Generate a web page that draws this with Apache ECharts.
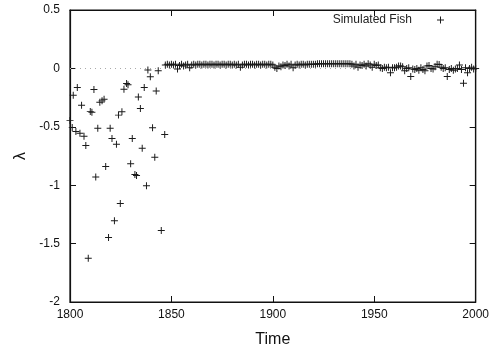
<!DOCTYPE html>
<html>
<head>
<meta charset="utf-8">
<script src="https://cdn.jsdelivr.net/npm/echarts@6/dist/echarts.min.js"></script>
<style>
html,body{margin:0;padding:0;background:#fff;}
#chart{width:492px;height:353px;}
</style>
</head>
<body>
<div id="chart"></div>
<script>
// Early, scattered estimates (1800-1846)
var earlyYears = [1800.0,1801.1,1801.6,1802.9,1803.6,1804.9,1805.7,1806.9,1807.8,1809.0,
  1810.0,1810.8,1811.8,1812.7,1813.7,1814.7,1815.8,1816.8,1817.6,1819.0,
  1819.8,1820.7,1821.9,1822.9,1823.9,1824.8,1825.6,1826.6,1827.9,1828.6,
  1829.9,1830.7,1832.0,1832.8,1833.7,1834.7,1835.6,1836.6,1837.7,1838.4,
  1839.6,1840.7,1841.8,1842.5,1843.5,1845.0,1846.7];
var earlyLambda = [-0.445,-0.505,-0.23,-0.54,-0.164,-0.556,-0.315,-0.58,-0.66,-1.626,
  -0.37,-0.375,-0.18,-0.93,-0.513,-0.29,-0.278,-0.264,-0.84,-1.447,
  -0.513,-0.6,-1.305,-0.65,-0.40,-1.157,-0.372,-0.179,-0.13,-0.139,
  -0.817,-0.6,-0.908,-0.916,-0.244,-0.343,-0.683,-0.164,-1.004,-0.014,
  -0.071,-0.508,-0.76,-0.193,-0.02,-1.387,-0.565];
// Later estimates (1847-2000), close to zero
var lateYears = [1847,1848,1849,
  1850,1851,1852,1853,1854,1855,1856,1857,1858,1859,
  1860,1861,1862,1863,1864,1865,1866,1867,1868,1869,
  1870,1871,1872,1873,1874,1875,1876,1877,1878,1879,
  1880,1881,1882,1883,1884,1885,1886,1887,1888,1889,
  1890,1891,1892,1893,1894,1895,1896,1897,1898,1899,
  1900,1901,1902,1903,1904,1905,1906,1907,1908,1909,
  1910,1911,1912,1913,1914,1915,1916,1917,1918,1919,
  1920,1921,1922,1923,1924,1925,1926,1927,1928,1929,
  1930,1931,1932,1933,1934,1935,1936,1937,1938,1939,
  1940,1941,1942,1943,1944,1945,1946,1947,1948,1949,
  1950,1951,1952,1953,1954,1955,1956,1957,1958,1959,
  1960,1961,1962,1963,1964,1965,1966,1967,1968,1969,
  1970,1971,1972,1973,1974,1975,1976,1977,1978,1979,
  1980,1981,1982,1983,1984,1985,1986,1987,1988,1989,
  1990,1991,1992,1993,1994,1995,1996,1997,1998,1999,
  2000];
var lateLambda = [0.03,0.035,0.03,
  0.035,0.03,0.035,-0.005,0.025,0.035,0.02,0.03,0.035,0.005,
  0.03,0.035,0.03,0.035,0.035,0.03,0.035,0.035,0.03,0.035,
  0.035,0.03,0.035,0.035,0.03,0.035,0.035,0.03,0.035,0.035,
  0.03,0.035,0.03,0.035,0.01,0.03,0.035,0.035,0.03,0.035,
  0.035,0.03,0.035,0.035,0.03,0.035,0.035,0.03,0.035,0.035,
  0.03,0.01,0.0,0.02,0.015,0.03,0.025,0.035,0.02,0.035,
  0.005,0.03,0.035,0.03,0.035,0.035,0.03,0.035,0.035,0.035,
  0.035,0.035,0.04,0.04,0.04,0.04,0.04,0.04,0.04,0.04,
  0.04,0.04,0.04,0.04,0.04,0.04,0.04,0.04,0.04,0.035,
  0.02,0.035,0.01,0.03,0.025,0.035,0.02,0.04,0.03,0.01,
  0.035,0.025,0.03,0.005,0.0,0.01,0.005,0.01,-0.037,0.005,
  0.005,0.01,0.02,0.02,0.015,-0.02,0.0,0.005,-0.07,-0.005,
  -0.01,0.0,-0.015,0.005,-0.01,-0.02,0.02,0.025,0.0,-0.005,
  0.015,0.035,0.034,0.01,0.0,0.005,-0.07,-0.01,0.0,-0.015,
  -0.005,0.0,0.03,-0.01,-0.128,0.005,-0.037,0.0,0.01,-0.005,
  0.0];
var xTicks = [1800, 1850, 1900, 1950, 2000];
var yTicks = [0.5, 0, -0.5, -1, -1.5, -2];

var points = [];
earlyYears.forEach(function(y, i){ points.push([y, earlyLambda[i]]); });
lateYears.forEach(function(y, i){ points.push([y, lateLambda[i]]); });

var plus = 'path://M4.3,0H5.7V4.3H10V5.7H5.7V10H4.3V5.7H0V4.3H4.3Z';
var font = 'Liberation Sans, Arial, Helvetica, sans-serif';

var chart = echarts.init(document.getElementById('chart'), null, {renderer: 'canvas'});
var axisLine = {show: true, onZero: false, lineStyle: {color: '#111', width: 1.2}};
var tick = {show: true, inside: true, length: 6, lineStyle: {color: '#111', width: 1}};
chart.setOption({
  animation: false,
  backgroundColor: '#fff',
  grid: {left: 70, right: 14, top: 10, bottom: 49, containLabel: false,
    show: true, borderColor: '#111', borderWidth: 1.2, backgroundColor: 'transparent'},
  legend: {
    data: ['Simulated Fish'],
    right: 43, top: 9,
    align: 'right',
    itemWidth: 7, itemHeight: 7,
    icon: plus,
    textStyle: {fontFamily: font, fontSize: 12, color: '#222', padding: [0, 20, 0, 0]}
  },
  xAxis: [{
    type: 'value', min: xTicks[0], max: xTicks[xTicks.length-1], interval: 50,
    name: 'Time', nameLocation: 'middle', nameGap: 30,
    nameTextStyle: {fontFamily: font, fontSize: 16, color: '#111'},
    axisLine: axisLine, axisTick: tick, splitLine: {show: false},
    axisLabel: {fontFamily: font, fontSize: 12, color: '#111', margin: 7,
      formatter: function(v){ return String(v); }}
  }, {
    type: 'value', position: 'top', min: xTicks[0], max: xTicks[xTicks.length-1], interval: 50,
    axisLine: axisLine, axisTick: tick, splitLine: {show: false}, axisLabel: {show: false}
  }],
  yAxis: [{
    type: 'value', min: yTicks[yTicks.length-1], max: yTicks[0], interval: 0.5,
    name: 'λ', nameLocation: 'middle', nameGap: 40, nameRotate: 90,
    nameTextStyle: {fontFamily: font, fontSize: 16, color: '#111'},
    axisLine: axisLine, axisTick: tick, splitLine: {show: false},
    axisLabel: {fontFamily: font, fontSize: 12, color: '#111', margin: 10,
      formatter: function(v){ return String(v); }}
  }, {
    type: 'value', position: 'right', min: yTicks[yTicks.length-1], max: yTicks[0], interval: 0.5,
    axisLine: axisLine, axisTick: tick, splitLine: {show: false}, axisLabel: {show: false}
  }],
  series: [{
    name: 'Simulated Fish',
    type: 'scatter',
    data: points,
    symbol: plus,
    symbolSize: 7,
    z: 3,
    itemStyle: {color: '#1a1a1a', opacity: 1},
    markLine: {
      silent: true, symbol: 'none', label: {show: false}, z: 1,
      lineStyle: {color: '#aaa', type: [1, 4], width: 1, opacity: 1},
      emphasis: {disabled: true},
      data: [{yAxis: 0}]
    }
  }]
});
</script>
</body>
</html>
